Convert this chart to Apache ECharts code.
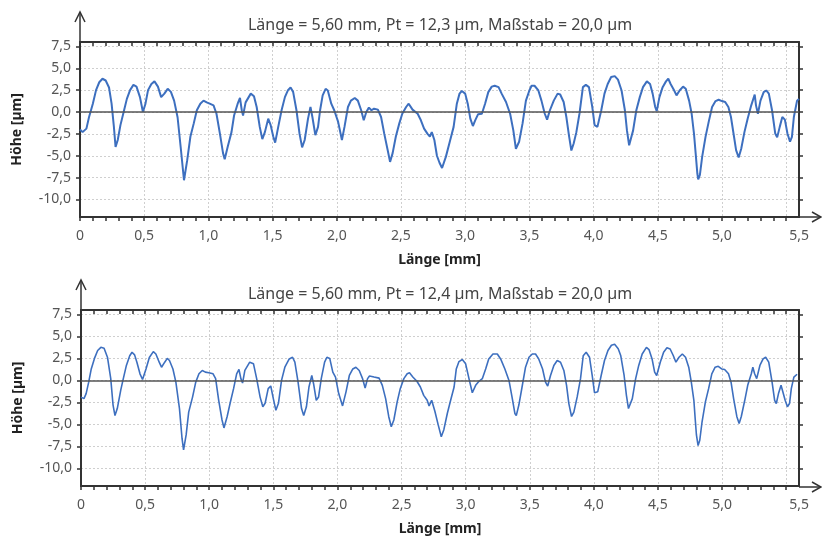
<!DOCTYPE html>
<html lang="de">
<head>
    <meta charset="UTF-8">
    <title>Profil</title>
    <script src="https://cdn.jsdelivr.net/npm/echarts@6/dist/echarts.min.js"></script>
    <style>
        html, body { margin: 0; padding: 0; background: #fff; }
    </style>
</head>
<body>
<div id="main" style="width: 822px; height: 537px;"></div>
</body>
<script>
    // Profil oben (Messung 1) : Länge [mm], Höhe [µm]
    var xTop = [0.00, 0.02, 0.05, 0.07, 0.10, 0.125, 0.15, 0.175, 0.20, 0.226, 0.246, 0.264, 0.277, 0.294, 0.315, 0.34, 0.365, 0.39, 0.416, 0.44,
        0.467, 0.49, 0.51, 0.53, 0.556, 0.58, 0.607, 0.632, 0.657, 0.683, 0.708, 0.733, 0.76, 0.784, 0.81, 0.822, 0.835, 0.86, 0.886, 0.91,
        0.937, 0.962, 0.987, 1.01, 1.04, 1.063, 1.09, 1.114, 1.127, 1.15, 1.18, 1.20, 1.228, 1.246, 1.26, 1.27, 1.29, 1.33, 1.355, 1.376,
        1.40, 1.42, 1.44, 1.466, 1.485, 1.505, 1.52, 1.544, 1.57, 1.596, 1.62, 1.64, 1.66, 1.686, 1.71, 1.73, 1.75, 1.776, 1.795, 1.81,
        1.833, 1.854, 1.87, 1.89, 1.913, 1.93, 1.957, 1.98, 2.01, 2.04, 2.06, 2.087, 2.11, 2.14, 2.164, 2.19, 2.21, 2.23, 2.25, 2.27,
        2.29, 2.32, 2.345, 2.37, 2.397, 2.415, 2.435, 2.46, 2.487, 2.51, 2.54, 2.56, 2.59, 2.63, 2.655, 2.68, 2.707, 2.725, 2.74, 2.76,
        2.78, 2.80, 2.82, 2.83, 2.85, 2.88, 2.91, 2.935, 2.956, 2.974, 3.00, 3.02, 3.04, 3.06, 3.078, 3.10, 3.13, 3.155, 3.18, 3.207,
        3.23, 3.26, 3.284, 3.318, 3.35, 3.375, 3.395, 3.405, 3.42, 3.447, 3.473, 3.50, 3.517, 3.54, 3.57, 3.594, 3.62, 3.638, 3.66, 3.69,
        3.72, 3.74, 3.767, 3.788, 3.81, 3.827, 3.845, 3.866, 3.89, 3.917, 3.94, 3.964, 3.99, 4.008, 4.03, 4.06, 4.085, 4.11, 4.137, 4.165,
        4.19, 4.218, 4.244, 4.26, 4.277, 4.287, 4.308, 4.333, 4.36, 4.385, 4.415, 4.44, 4.46, 4.48, 4.492, 4.513, 4.538, 4.564, 4.582, 4.60,
        4.628, 4.646, 4.67, 4.697, 4.718, 4.744, 4.764, 4.782, 4.795, 4.808, 4.815, 4.828, 4.846, 4.872, 4.897, 4.923, 4.95, 4.974, 5.00, 5.025,
        5.05, 5.07, 5.09, 5.11, 5.13, 5.15, 5.175, 5.20, 5.228, 5.255, 5.265, 5.28, 5.30, 5.325, 5.345, 5.365, 5.39, 5.415, 5.43, 5.45,
        5.47, 5.49, 5.51, 5.53, 5.545, 5.56, 5.585, 5.60];
    var yTop = [-2.0, -2.3, -1.9, -0.6, 0.95, 2.5, 3.4, 3.8, 3.6, 2.8, 0.95, -1.7, -4.0, -3.2, -1.5, 0.0, 1.5, 2.5, 3.1, 2.9,
        1.7, 0.0, 0.95, 2.5, 3.2, 3.5, 2.9, 1.7, 2.1, 2.65, 2.3, 1.3, -0.6, -4.0, -7.8, -7.95, -5.5, -2.8, -1.3, 0.2,
        0.95, 1.3, 1.1, 0.95, 0.75, -0.2, -2.5, -4.7, -5.4, -4.0, -2.3, -0.4, 0.95, 1.6, 0.2, -0.4, 1.1, 2.1, 1.8, 0.57,
        -1.7, -3.1, -2.3, -0.76, -1.5, -2.8, -3.5, -1.7, 0.2, 1.7, 2.5, 2.8, 2.3, 0.2, -2.5, -4.05, -3.2, -0.76, 0.57, -0.57,
        -2.65, -1.7, 0.2, 1.9, 2.65, 2.46, 0.95, 0.2, -1.1, -3.2, -1.7, 0.57, 1.3, 1.6, 1.3, 0.2, -0.95, 0.0, 0.5, 0.2,
        0.38, 0.27, -0.57, -2.5, -4.4, -5.7, -4.7, -2.8, -1.3, -0.2, 0.57, 0.95, 0.27, -0.2, -0.95, -1.9, -2.5, -2.8, -2.3, -3.2,
        -5.0, -5.8, -6.4, -6.2, -5.1, -3.4, -1.7, 0.95, 2.1, 2.4, 2.1, 0.95, -0.76, -1.6, -0.95, -0.27, -0.2, 0.95, 2.27, 2.9,
        3.0, 2.84, 2.1, 1.14, -0.2, -2.1, -4.2, -4.35, -3.4, -1.3, 1.3, 2.46, 3.0, 3.0, 2.46, 1.3, -0.2, -0.87, 0.2, 1.3,
        2.1, 2.0, 1.14, -0.57, -2.84, -4.4, -3.6, -2.3, -0.2, 2.84, 3.1, 2.84, 0.57, -1.5, -1.7, 0.2, 2.1, 3.2, 4.0, 4.1,
        3.7, 2.46, 0.2, -2.1, -3.8, -3.9, -2.1, 0.2, 1.7, 2.84, 3.5, 3.2, 2.1, 0.57, 0.1, 1.7, 2.84, 3.5, 3.8, 3.2,
        2.46, 1.9, 2.46, 2.9, 2.65, 1.3, -0.2, -2.46, -4.7, -7.0, -7.7, -7.2, -5.1, -2.84, -1.1, 0.57, 1.25, 1.4, 1.25, 1.14,
        0.57, -0.57, -2.46, -4.35, -5.2, -4.2, -2.3, -0.76, 0.76, 2.0, 0.76, -0.2, 1.3, 2.27, 2.46, 2.1, 0.2, -2.46, -2.9, -1.7,
        -0.57, -0.87, -2.46, -3.4, -2.84, -0.57, 1.3, 1.5];

    // Profil unten (Messung 2)
    var xBot = [0.00, 0.023, 0.04, 0.06, 0.08, 0.105, 0.13, 0.155, 0.18, 0.207, 0.232, 0.25, 0.265, 0.283, 0.31, 0.33, 0.354, 0.38, 0.398, 0.418,
        0.436, 0.46, 0.48, 0.507, 0.533, 0.564, 0.584, 0.61, 0.628, 0.653, 0.673, 0.69, 0.717, 0.74, 0.768, 0.788, 0.80, 0.82, 0.84, 0.87,
        0.895, 0.92, 0.946, 0.97, 0.997, 1.03, 1.05, 1.074, 1.10, 1.115, 1.14, 1.163, 1.19, 1.214, 1.232, 1.247, 1.26, 1.278, 1.316, 1.345,
        1.37, 1.397, 1.418, 1.436, 1.46, 1.48, 1.50, 1.52, 1.54, 1.564, 1.59, 1.624, 1.65, 1.668, 1.693, 1.72, 1.737, 1.758, 1.778, 1.80,
        1.814, 1.835, 1.853, 1.874, 1.90, 1.918, 1.94, 1.964, 1.985, 2.01, 2.04, 2.067, 2.093, 2.12, 2.144, 2.17, 2.196, 2.216, 2.235, 2.25,
        2.286, 2.325, 2.35, 2.376, 2.40, 2.42, 2.44, 2.466, 2.49, 2.518, 2.544, 2.562, 2.588, 2.62, 2.647, 2.673, 2.70, 2.715, 2.735, 2.76,
        2.785, 2.81, 2.83, 2.857, 2.883, 2.91, 2.927, 2.948, 2.974, 3.00, 3.026, 3.052, 3.078, 3.104, 3.13, 3.156, 3.18, 3.213, 3.247, 3.273,
        3.306, 3.338, 3.364, 3.384, 3.395, 3.415, 3.44, 3.467, 3.494, 3.52, 3.545, 3.57, 3.60, 3.623, 3.64, 3.662, 3.688, 3.714, 3.74, 3.766,
        3.787, 3.805, 3.826, 3.844, 3.87, 3.896, 3.917, 3.94, 3.966, 3.987, 4.005, 4.03, 4.057, 4.083, 4.11, 4.137, 4.162, 4.19, 4.21, 4.236,
        4.254, 4.27, 4.28, 4.30, 4.326, 4.35, 4.377, 4.41, 4.43, 4.454, 4.474, 4.49, 4.518, 4.544, 4.57, 4.595, 4.62, 4.64, 4.664, 4.69,
        4.715, 4.74, 4.76, 4.78, 4.79, 4.80, 4.813, 4.826, 4.844, 4.87, 4.895, 4.92, 4.946, 4.97, 4.997, 5.02, 5.05, 5.07, 5.09, 5.115,
        5.133, 5.15, 5.177, 5.20, 5.228, 5.24, 5.254, 5.27, 5.295, 5.32, 5.34, 5.364, 5.39, 5.41, 5.423, 5.44, 5.46, 5.474, 5.492, 5.51,
        5.526, 5.54, 5.56, 5.585];
    var yBot = [-1.9, -2.07, -1.5, -0.2, 1.3, 2.5, 3.4, 3.76, 3.65, 2.6, 0.2, -2.8, -4.0, -3.2, -1.1, 0.2, 1.7, 2.8, 3.2, 2.9,
        2.07, 0.75, 0.1, 1.3, 2.6, 3.27, 3.0, 2.07, 1.5, 2.07, 2.5, 2.26, 1.3, -0.2, -3.2, -6.6, -7.9, -6.2, -3.6, -1.9,
        -0.2, 0.75, 1.13, 0.94, 0.86, 0.75, 0.2, -2.26, -4.5, -5.4, -4.1, -2.6, -0.94, 0.75, 1.24, 0.2, -0.3, 1.13, 2.07, 1.9,
        0.2, -1.9, -3.0, -2.6, -0.94, -0.64, -2.07, -3.4, -2.6, 0.0, 1.5, 2.44, 2.63, 2.07, -0.2, -3.2, -4.0, -3.0, -0.75, 0.56,
        -0.38, -2.26, -1.88, 0.2, 2.07, 2.63, 2.5, 0.94, 0.38, -1.5, -2.9, -1.3, 0.56, 1.3, 1.5, 1.13, 0.2, -0.86, 0.2, 0.5,
        0.38, 0.26, -0.56, -2.07, -4.1, -5.26, -4.5, -2.44, -0.94, 0.2, 0.75, 0.86, 0.38, -0.1, -0.75, -1.7, -2.26, -2.9, -2.26, -3.5,
        -5.0, -6.4, -5.6, -3.76, -2.26, -0.75, 1.3, 2.14, 2.37, 1.88, 0.2, -1.4, -0.56, -0.1, 0.2, 1.3, 2.44, 3.0, 3.0, 2.44,
        1.3, 0.0, -2.07, -3.76, -4.0, -2.8, -0.75, 1.5, 2.63, 3.0, 3.0, 2.44, 1.3, -0.2, -0.64, 0.56, 1.7, 2.26, 2.07, 1.13,
        -0.56, -2.63, -4.1, -3.6, -1.88, 0.2, 2.8, 3.2, 2.63, 0.56, -1.4, -1.3, 0.56, 2.26, 3.4, 4.0, 4.1, 3.6, 2.8, 0.56,
        -1.7, -3.2, -3.4, -2.07, 0.2, 1.7, 3.0, 3.76, 3.5, 2.44, 0.94, 0.56, 2.07, 3.2, 3.7, 3.57, 2.8, 2.07, 2.63, 3.0,
        2.63, 1.5, -0.2, -2.26, -4.3, -6.2, -7.4, -6.8, -4.7, -2.44, -0.94, 0.75, 1.5, 1.6, 1.3, 1.24, 0.75, -0.2, -2.07, -4.1,
        -4.9, -4.1, -2.26, -0.56, 0.75, 1.5, 0.75, 0.2, 1.7, 2.44, 2.63, 2.07, -0.2, -2.26, -2.63, -1.5, -0.56, -0.75, -2.26, -3.0,
        -2.63, -0.94, 0.38, 0.7];

    // Achsenbeschriftung
    var xTicks = [0, 0.5, 1.0, 1.5, 2.0, 2.5, 3.0, 3.5, 4.0, 4.5, 5.0, 5.5];
    var yTicks = [7.5, 5.0, 2.5, 0.0, -2.5, -5.0, -7.5, -10.0];
    var titles = ['Länge = 5,60 mm, Pt = 12,3 µm, Maßstab = 20,0 µm', 'Länge = 5,60 mm, Pt = 12,4 µm, Maßstab = 20,0 µm'];

    function pairs(xs, ys) {
        var out = [];
        for (var i = 0; i < xs.length; i++) {
            out.push([xs[i], ys[i]]);
        }
        return out;
    }

    function komma(v) {
        return v.toFixed(1).replace('.', ',');
    }

    var FONT = 'Noto Sans';
    var AXIS_COLOR = '#333';
    var LABEL_COLOR = '#555';

    // Layout der beiden Diagramme
    var grids = [
        {left: 80, right: 23, top: 42, height: 175},
        {left: 81, right: 23, top: 310, height: 177}
    ];

    var xAxes = [];
    var yAxes = [];
    for (var g = 0; g < 2; g++) {
        // unten: Beschriftung + Teilstriche nach außen
        xAxes.push({
            type: 'value', gridIndex: g, position: 'bottom',
            min: 0, max: 5.6, interval: 0.5,
            name: 'Länge [mm]', nameLocation: 'middle', nameGap: 36,
            nameTextStyle: {fontFamily: FONT, fontSize: 14, fontWeight: 'bold', color: '#222'},
            axisLine: {show: true, onZero: false, lineStyle: {color: AXIS_COLOR, width: 2}},
            axisTick: {show: true, length: 4, customValues: xTicks, lineStyle: {color: AXIS_COLOR, width: 1.5}},
            minorTick: {show: true, splitNumber: 5, length: 4, lineStyle: {color: AXIS_COLOR, width: 1.5}},
            axisLabel: {
                customValues: xTicks, margin: 12, color: LABEL_COLOR, fontFamily: FONT, fontSize: 14,
                formatter: function (v) {
                    if (v === 0) return '0';
                    if (v === 5.5) return '{e|' + komma(v) + '}';
                    return komma(v);
                },
                rich: {e: {padding: [0, 0, 0, 26], color: LABEL_COLOR, fontFamily: FONT, fontSize: 14}}
            },
            splitLine: {show: true, lineStyle: {color: '#cfcfcf', type: [2, 2], width: 1}}
        });
        // oben: nur Rahmen + Teilstriche nach innen
        xAxes.push({
            type: 'value', gridIndex: g, position: 'top',
            min: 0, max: 5.6, interval: 0.5,
            axisLine: {show: true, onZero: false, lineStyle: {color: AXIS_COLOR, width: 2}},
            axisTick: {show: true, inside: true, length: 4, customValues: xTicks, lineStyle: {color: AXIS_COLOR, width: 1.5}},
            minorTick: {show: true, splitNumber: 5, length: 4, lineStyle: {color: AXIS_COLOR, width: 1.5}},
            axisLabel: {show: false},
            splitLine: {show: false}
        });
        yAxes.push({
            type: 'value', gridIndex: g, position: 'left',
            min: -12, max: 8,
            name: 'Höhe [µm]', nameLocation: 'middle', nameGap: 56,
            nameTextStyle: {fontFamily: FONT, fontSize: 14, fontWeight: 'bold', color: '#222'},
            axisLine: {show: true, onZero: false, lineStyle: {color: AXIS_COLOR, width: 2}},
            axisTick: {show: true, length: 4, customValues: yTicks, lineStyle: {color: AXIS_COLOR, width: 1.5}},
            axisLabel: {customValues: yTicks, margin: 9, color: LABEL_COLOR, fontFamily: FONT, fontSize: 14, formatter: komma},
            splitLine: {show: true, lineStyle: {color: '#cfcfcf', type: [2, 2], width: 1}}
        });
        yAxes.push({
            type: 'value', gridIndex: g, position: 'right',
            min: -12, max: 8,
            axisLine: {show: true, onZero: false, lineStyle: {color: AXIS_COLOR, width: 2}},
            axisTick: {show: true, length: 4, customValues: yTicks, lineStyle: {color: AXIS_COLOR, width: 1.5}},
            axisLabel: {show: false},
            splitLine: {show: false}
        });
    }

    function profil(g, data, breite) {
        return {
            type: 'line', xAxisIndex: g * 2, yAxisIndex: g * 2,
            data: data, showSymbol: false, symbol: 'none', silent: true,
            lineStyle: {color: '#3d6fbf', width: breite},
            markLine: {
                silent: true, symbol: 'none', label: {show: false},
                lineStyle: {color: '#555', type: 'solid', width: 1.5},
                data: [{yAxis: 0}]
            }
        };
    }

    // Pfeile an den Achsenenden
    function pfeile(grid) {
        var l = grid.left, t = grid.top, b = grid.top + grid.height, r = 822 - grid.right;
        var st = {stroke: AXIS_COLOR, lineWidth: 1.5, fill: null};
        return [
            {type: 'line', shape: {x1: l, y1: t, x2: l, y2: t - 30}, style: st},
            {type: 'polyline', shape: {points: [[l - 5, t - 20], [l, t - 30], [l + 5, t - 20]]}, style: st},
            {type: 'line', shape: {x1: r, y1: b, x2: 821, y2: b}, style: st},
            {type: 'polyline', shape: {points: [[812, b - 5], [821, b], [812, b + 5]]}, style: st}
        ];
    }

    var myChart = echarts.init(document.getElementById('main'));
    var option = {
        animation: false,
        backgroundColor: '#fff',
        title: [
            {text: titles[0], left: 435, top: 12, textAlign: 'center',
                textStyle: {fontFamily: FONT, fontSize: 16, fontWeight: 'normal', color: '#444'}},
            {text: titles[1], left: 435, top: 281, textAlign: 'center',
                textStyle: {fontFamily: FONT, fontSize: 16, fontWeight: 'normal', color: '#444'}}
        ],
        grid: grids,
        xAxis: xAxes,
        yAxis: yAxes,
        series: [
            profil(0, pairs(xTop, yTop), 2),
            profil(1, pairs(xBot, yBot), 1.6)
        ],
        graphic: pfeile(grids[0]).concat(pfeile(grids[1]))
    };
    myChart.setOption(option);
</script>
</html>
